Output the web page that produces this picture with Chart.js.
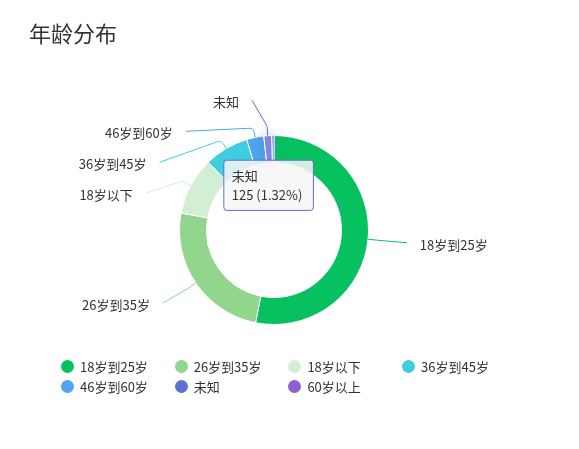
<!DOCTYPE html>
<html>
<head>
<meta charset="utf-8">
<script src="https://cdn.jsdelivr.net/npm/chart.js@4/dist/chart.umd.min.js"></script>
<style>
	body { margin: 0; background: #fff; font-family: "Noto Sans CJK SC", "Noto Sans", sans-serif; }
	#wrap { position: relative; width: 579px; height: 449px; }
	#wrap canvas { position: absolute; left: 0; top: 0; }
	#title { position: absolute; left: 29px; top: 21px; font-size: 22px; line-height: 22px; color: #333; }
	#legend { position: absolute; left: 61px; top: 356px; width: 470px; font-size: 13px; color: #333; }
	.item { display: inline-flex; align-items: center; width: 113.7px; height: 20px; vertical-align: top; }
	.dot { width: 13px; height: 13px; border-radius: 50%; margin-right: 6px; flex: none; }
</style>
</head>
<body>
<div id="wrap">
	<canvas id="ageChart"></canvas>
	<div id="title">年龄分布</div>
	<div id="legend"></div>
</div>
<script>
const categories = ['18岁到25岁', '26岁到35岁', '18岁以下', '36岁到45岁', '46岁到60岁', '未知', '60岁以上'];
const counts = [5032, 2344, 934, 720, 278, 125, 38];
const sliceColors = ['#07c160', '#91d68c', '#d2efd4', '#40cde0', '#4ea6ee', '#5e6fd0', '#8e5fd0'];
const hoverColors = ['#39cd80', '#a7dea3', '#dcf3de', '#66d7e6', '#71b8f1', '#7d8ae0', '#a47fda'];
const hoveredIndex = 5;

// label line geometry (ECharts style outside labels)
const elbowLen = 9.5;
const labelReach = 35.5;
const endRX = 39;
const endRY = 37;
const labelGap = 31;
const textGap = 13;
const minLabelAngle = 3 * Math.PI / 180;

const sliceLabels = {
	id: 'sliceLabels',
	afterDatasetsDraw(chart) {
		let meta = chart.getDatasetMeta(0);
		let ctx = chart.ctx;

		// soft glow behind the hovered slice
		chart.getActiveElements().forEach(a => {
			ctx.save();
			ctx.shadowBlur = 12;
			ctx.shadowColor = 'rgba(94, 111, 208, 0.45)';
			a.element.draw(ctx, chart.chartArea);
			ctx.restore();
		});

		let items = [];
		meta.data.forEach((arc, i) => {
			let p = arc.getProps(['x', 'y', 'startAngle', 'endAngle', 'outerRadius'], true);
			if (p.endAngle - p.startAngle < minLabelAngle) return;
			let mid = (p.startAngle + p.endAngle) / 2;
			let cos = Math.cos(mid), sin = Math.sin(mid);
			items.push({
				i: i, cx: p.x, cy: p.y, r: p.outerRadius, cos: cos, sin: sin,
				side: cos < 0 ? -1 : 1,
				y: p.y + (p.outerRadius + labelReach) * sin
			});
		});

		// push overlapping labels down, one side at a time
		[-1, 1].forEach(side => {
			let list = items.filter(it => it.side === side).sort((a, b) => a.y - b.y);
			for (let k = 1; k < list.length; k++) {
				list[k].y = Math.max(list[k].y, list[k - 1].y + labelGap);
			}
		});

		ctx.save();
		ctx.lineWidth = 1;
		ctx.font = '13px "Noto Sans CJK SC"';
		ctx.textBaseline = 'middle';
		items.forEach(it => {
			let a = { x: it.cx + it.r * it.cos, y: it.cy + it.r * it.sin };
			let b = { x: it.cx + (it.r + elbowLen) * it.cos, y: it.cy + (it.r + elbowLen) * it.sin };
			let rx = it.r + endRX, ry = it.r + endRY;
			let dy = it.y - it.cy;
			let k = Math.max(0, 1 - (dy * dy) / (ry * ry));
			let c = { x: it.cx + it.side * rx * Math.sqrt(k), y: it.y };

			ctx.strokeStyle = sliceColors[it.i];
			ctx.beginPath();
			ctx.moveTo(a.x, a.y);
			ctx.arcTo(b.x, b.y, c.x, c.y, 5);
			ctx.lineTo(c.x, c.y);
			ctx.stroke();

			ctx.fillStyle = '#333';
			ctx.textAlign = it.side < 0 ? 'right' : 'left';
			ctx.fillText(chart.data.labels[it.i], c.x + it.side * textGap, c.y + 2);
		});
		ctx.restore();
	}
};

function addLegend() {

	let box = document.getElementById('legend');
	categories.forEach((name, i) => {
		let item = document.createElement('span');
		item.className = 'item';
		let dot = document.createElement('span');
		dot.className = 'dot';
		dot.style.background = sliceColors[i];
		item.appendChild(dot);
		item.appendChild(document.createTextNode(name));
		box.appendChild(item);
	});

}

function addAgeChart() {

	let ctx = document.getElementById('ageChart').getContext('2d');
	let total = counts.reduce((s, v) => s + v, 0);
	let ageChart = new Chart(ctx, {
		type: 'doughnut',
		data: {
			labels: categories,
			datasets: [{
				data: counts,
				backgroundColor: sliceColors,
				hoverBackgroundColor: hoverColors,
				borderColor: '#fff',
				hoverBorderColor: '#fff',
				borderWidth: 1,
				hoverBorderWidth: 1,
				hoverOffset: 0,
			}],
		},
		options: {
			responsive: true,
			maintainAspectRatio: false,
			animation: false,
			events: [],
			radius: 94.5,
			cutout: '71.4%',
			layout: {
				padding: { left: 100, right: 131, top: 60, bottom: 49 },
			},
			plugins: {
				legend: {
					display: false,
				},
				tooltip: {
					backgroundColor: 'rgba(246, 246, 246, 0.86)',
					borderColor: (c) => {
						let items = c.tooltipItems || (c.tooltip && c.tooltip.dataPoints) || [];
						return items.length ? sliceColors[items[0].dataIndex] : '#999';
					},
					borderWidth: 1,
					cornerRadius: 3,
					caretSize: 0,
					caretPadding: 11,
					xAlign: 'center',
					yAlign: 'top',
					displayColors: false,
					padding: { left: 8, right: 11, top: 8, bottom: 8 },
					titleColor: '#333',
					bodyColor: '#333',
					titleFont: { family: 'Noto Sans CJK SC', size: 13, weight: 'normal' },
					bodyFont: { family: 'Noto Sans CJK SC', size: 13 },
					titleMarginBottom: 3,
					callbacks: {
						title: (items) => items[0].label,
						label: (item) => item.raw + ' (' + (item.raw / total * 100).toFixed(2) + '%)',
					},
				},
			},
		},
		plugins: [sliceLabels],
	});

	ageChart.setActiveElements([{ datasetIndex: 0, index: hoveredIndex }]);
	ageChart.tooltip.setActiveElements([{ datasetIndex: 0, index: hoveredIndex }], { x: 0, y: 0 });
	ageChart.update();

}

addLegend();
addAgeChart();
</script>
</body>
</html>
